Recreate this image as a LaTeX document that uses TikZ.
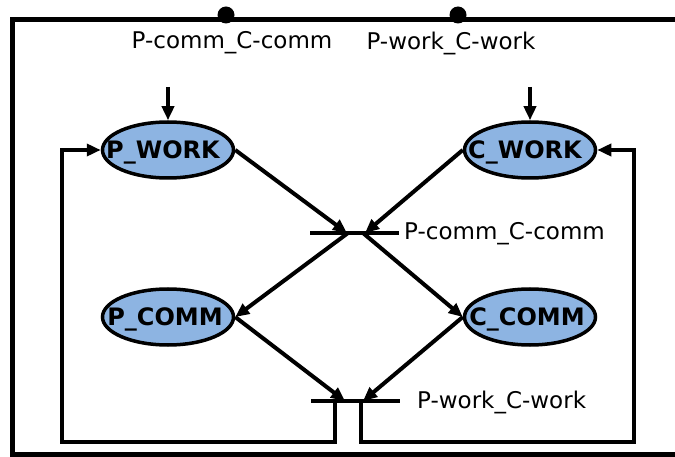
\documentclass[tikz,border=0pt]{standalone}
\usepackage{fontspec}
\setmainfont{DejaVu Sans}
\usetikzlibrary{arrows.meta,shapes.geometric}
\definecolor{placeblue}{RGB}{141,180,226}
\tikzset{
  place/.style={ellipse, draw=black, line width=3.5pt, fill=placeblue,
    minimum width=131pt, minimum height=56pt, inner sep=0pt},
  plabel/.style={font=\fontsize{24}{28}\selectfont\bfseries, inner sep=0pt},
  trans/.style={draw=none, fill=black, minimum width=89pt, minimum height=4pt, inner sep=0pt},
  lbl/.style={font=\fontsize{23}{27}\selectfont, inner sep=0pt},
  arc/.style={line width=4pt, -{Triangle[length=14pt,width=12pt]}},
  frame/.style={line width=5pt},
}
\begin{document}
\begin{tikzpicture}[x=1pt,y=-1pt]
\useasboundingbox (0,0) rectangle (675,457);
\clip (0,0) rectangle (675,457);
% frame
\draw[frame] (700,20) -- (12,20) -- (12,454) -- (700,454);
\fill (226,15) circle (8.5);
\fill (458,15) circle (8.5);
% top labels
\node[lbl] (lt1) at (232,43) {P-comm\_C-comm};
\node[lbl] (lt2) at (451,43) {P-work\_C-work};
% places
\node[place] (pw) at (168,150) {};
\node[place] (cw) at (530,150) {};
\node[place] (pc) at (168,317) {};
\node[place] (cc) at (530,317) {};
\node[plabel] (pwl) at (163,152) {P\_WORK};
\node[plabel] (cwl) at (525,152) {C\_WORK};
\node[plabel] (pcl) at (165,319) {P\_COMM};
\node[plabel] (ccl) at (527,319) {C\_COMM};
% transitions
\node[trans] (t1) at (354,233) {};
\node[trans] (t2) at (355,401) {};
\node[lbl, anchor=west] (l1) at (404,234) {P-comm\_C-comm};
\node[lbl, anchor=west] (l2) at (417,402) {P-work\_C-work};
% helper coordinates
\coordinate (t1a) at (347,233);
\coordinate (t1b) at (365,233);
\coordinate (t1c) at (348,233);
\coordinate (t1d) at (363,233);
\coordinate (t2a) at (345,401);
\coordinate (t2b) at (363,401);
\coordinate (t2l) at (335,401);
\coordinate (t2r) at (361,401);
\coordinate (in1) at (168,87);
\coordinate (in2) at (530,87);
% arcs
\draw[arc] (in1) -- (pw.north);
\draw[arc] (in2) -- (cw.north);
\draw[arc] (pw.east) -- (t1a);
\draw[arc] (cw.west) -- (t1b);
\draw[arc] (t1c) -- (pc.east);
\draw[arc] (t1d) -- (cc.west);
\draw[arc] (pc.east) -- (t2a);
\draw[arc] (cc.west) -- (t2b);
\draw[arc] (t2l) -- (335,442) -- (62,442) -- (62,150) -- (pw.west);
\draw[arc] (t2r) -- (361,442) -- (634,442) -- (634,150) -- (cw.east);
\end{tikzpicture}
\end{document}
